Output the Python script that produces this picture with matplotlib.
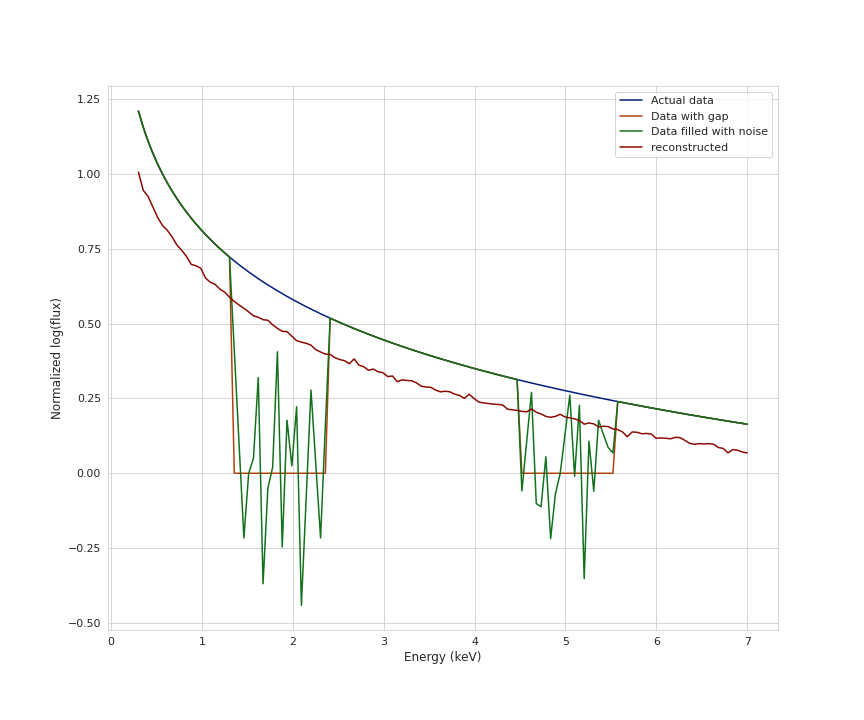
import matplotlib
matplotlib.use("Agg")
import matplotlib.pyplot as plt
import numpy as np
import seaborn as sns

# energy grid (keV)
energy = np.linspace(0.3, 7.0, 128)

actual = [
    1.2097, 1.1559, 1.1097, 1.0691, 1.0329, 1.0003, 0.9706, 0.9433, 0.9181, 0.8947,
    0.8728, 0.8523, 0.8330, 0.8147, 0.7974, 0.7810, 0.7653, 0.7503, 0.7360, 0.7223,
    0.7091, 0.6964, 0.6842, 0.6724, 0.6610, 0.6500, 0.6394, 0.6291, 0.6191, 0.6094,
    0.5999, 0.5908, 0.5818, 0.5732, 0.5647, 0.5564, 0.5484, 0.5405, 0.5328, 0.5253,
    0.5179, 0.5107, 0.5037, 0.4968, 0.4901, 0.4834, 0.4770, 0.4706, 0.4644, 0.4582,
    0.4522, 0.4463, 0.4405, 0.4348, 0.4292, 0.4237, 0.4182, 0.4129, 0.4076, 0.4025,
    0.3974, 0.3924, 0.3874, 0.3826, 0.3778, 0.3730, 0.3684, 0.3638, 0.3592, 0.3548,
    0.3503, 0.3460, 0.3417, 0.3374, 0.3332, 0.3291, 0.3250, 0.3210, 0.3170, 0.3130,
    0.3091, 0.3053, 0.3015, 0.2977, 0.2940, 0.2903, 0.2867, 0.2831, 0.2795, 0.2760,
    0.2725, 0.2690, 0.2656, 0.2622, 0.2589, 0.2556, 0.2523, 0.2491, 0.2458, 0.2426,
    0.2395, 0.2364, 0.2333, 0.2302, 0.2271, 0.2241, 0.2211, 0.2182, 0.2153, 0.2123,
    0.2095, 0.2066, 0.2038, 0.2010, 0.1982, 0.1954, 0.1927, 0.1900, 0.1873, 0.1846,
    0.1819, 0.1793, 0.1767, 0.1741, 0.1715, 0.1690, 0.1665, 0.1640,
]

reconstructed = [
    1.006, 0.945, 0.925, 0.890, 0.855, 0.828, 0.812, 0.790, 0.763, 0.745,
    0.725, 0.698, 0.693, 0.685, 0.652, 0.638, 0.631, 0.615, 0.605, 0.588,
    0.574, 0.562, 0.551, 0.539, 0.526, 0.521, 0.513, 0.511, 0.496, 0.484,
    0.474, 0.473, 0.458, 0.443, 0.438, 0.434, 0.428, 0.413, 0.405, 0.398,
    0.397, 0.386, 0.380, 0.376, 0.366, 0.382, 0.361, 0.356, 0.344, 0.348,
    0.339, 0.336, 0.323, 0.325, 0.306, 0.312, 0.310, 0.309, 0.302, 0.291,
    0.288, 0.287, 0.278, 0.272, 0.274, 0.272, 0.264, 0.260, 0.250, 0.264,
    0.250, 0.238, 0.235, 0.233, 0.231, 0.230, 0.228, 0.214, 0.212, 0.210,
    0.207, 0.205, 0.215, 0.204, 0.198, 0.190, 0.187, 0.190, 0.197, 0.188,
    0.185, 0.182, 0.176, 0.164, 0.168, 0.165, 0.155, 0.157, 0.156, 0.148,
    0.146, 0.138, 0.122, 0.138, 0.137, 0.132, 0.133, 0.131, 0.117, 0.118,
    0.117, 0.115, 0.120, 0.119, 0.110, 0.100, 0.097, 0.099, 0.098, 0.099,
    0.097, 0.086, 0.083, 0.068, 0.079, 0.077, 0.071, 0.068,
]

# gap index ranges (inclusive start, exclusive end)
gap1 = (20, 40)
gap2 = (80, 100)

noise_gap1 = [0.41, 0.10, -0.216, 0.0, 0.05, 0.32, -0.369, -0.05, 0.02, 0.406,
              -0.246, 0.177, 0.025, 0.222, -0.441, -0.08, 0.278, 0.03, -0.216, 0.16]
noise_gap2 = [-0.059, 0.105, 0.27, -0.101, -0.112, 0.055, -0.218, -0.068, 0.0, 0.13,
              0.261, -0.01, 0.227, -0.352, 0.107, -0.06, 0.177, 0.13, 0.086, 0.068]

actual = np.array(actual)
with_gap = actual.copy()
filled = actual.copy()
for (a, b), noise in [(gap1, noise_gap1), (gap2, noise_gap2)]:
    with_gap[a:b] = 0.0
    filled[a:b] = noise

sns.set_style("whitegrid")
plt.rcParams['font.size'] = 11
fig, ax = plt.subplots(figsize=(12, 10), dpi=72)
fig.subplots_adjust(left=0.125, right=0.9, top=0.88, bottom=0.125)

ax.plot(energy, actual, color='#001c7f', linewidth=1.5, label='Actual data')
ax.plot(energy, with_gap, color='#b1400d', linewidth=1.5, label='Data with gap')
ax.plot(energy, filled, color='#12711c', linewidth=1.5, label='Data filled with noise')
ax.plot(energy, reconstructed, color='#8c0800', linewidth=1.5, label='reconstructed')

ax.set_xlabel('Energy (keV)', fontsize=12)
ax.set_ylabel('Normalized log(flux)', fontsize=12)
ax.tick_params(labelsize=11)
ax.legend(loc='upper right', fontsize=11)

fig.savefig('out.png', dpi=72)
